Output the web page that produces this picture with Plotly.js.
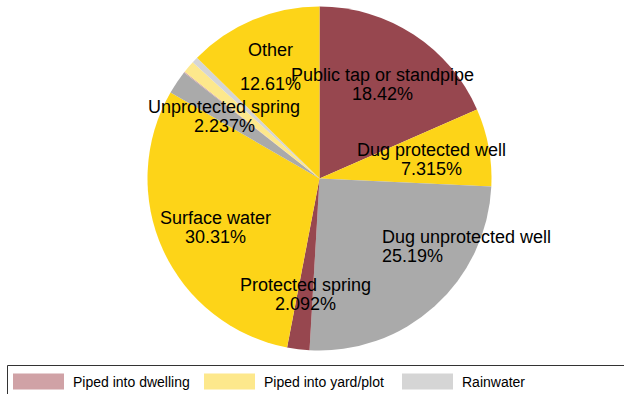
<!DOCTYPE html>
<html>
<head>
<meta charset="utf-8">
<script src="https://cdn.plot.ly/plotly-3.0.1.min.js"></script>
<style>
  html, body { margin: 0; padding: 0; background: #ffffff; }
  #chart { width: 624px; height: 394px; }
</style>
</head>
<body>
<div id="chart"></div>
<script>
// Main source of drinking water, share of households (clockwise from 12 o'clock)
const sources = [
  "Public tap or standpipe",
  "Dug protected well",
  "Dug unprotected well",
  "Protected spring",
  "Surface water",
  "Unprotected spring",
  "Piped into dwelling",
  "Piped into yard/plot",
  "Rainwater",
  "Other"
];
const shares = [18.42, 7.315, 25.19, 2.092, 30.31, 2.237, 0.096, 1.15, 0.58, 12.61];
const sliceColors = [
  "#97474f", "#fdd418", "#aaaaaa", "#97474f", "#fdd418",
  "#aaaaaa", "#d0a2a6", "#fde88c", "#d5d5d5", "#fdd418"
];
// Sources shown in the key below the pie
const legendSources = ["Piped into dwelling", "Piped into yard/plot", "Rainwater"];
// Sources whose share is printed on the pie
const labelledSources = [
  "Public tap or standpipe", "Dug protected well", "Dug unprotected well",
  "Protected spring", "Surface water", "Unprotected spring", "Other"
];

// Label placement in pixels: [anchor x, name y, value y, align]
const labelPlace = {
  "Public tap or standpipe": [382, 75, 94, "center"],
  "Dug protected well":      [431, 150, 169, "center"],
  "Dug unprotected well":    [380, 237, 256, "left"],
  "Protected spring":        [305, 284.5, 303.5, "center"],
  "Surface water":           [215, 218, 237, "center"],
  "Unprotected spring":      [224, 107, 126, "center"],
  "Other":                   [270, 50, 84, "center"]
};

const W = 624, H = 394;
const px = x => x / W;
const py = y => 1 - y / H;
const font = "Liberation Sans, Arial, Helvetica, sans-serif";

const pie = {
  type: "pie",
  labels: sources,
  values: shares,
  sort: false,
  direction: "clockwise",
  rotation: 0,
  textinfo: "none",
  hoverinfo: "label+percent",
  showlegend: false,
  marker: { colors: sliceColors, line: { width: 0 } },
  domain: { x: [px(147), px(492)], y: [py(350.5), py(6.5)] }
};

const annotations = [];
const total = shares.reduce((a, b) => a + b, 0);
labelledSources.forEach(name => {
  const i = sources.indexOf(name);
  const pct = (shares[i] / total * 100).toPrecision(4) + "%";
  const p = labelPlace[name];
  const xa = p[3] === "left" ? "left" : "center";
  [[name, p[1]], [pct, p[2]]].forEach(([t, y]) => {
    annotations.push({
      xref: "paper", yref: "paper",
      x: px(p[0]), y: py(y),
      xanchor: xa, yanchor: "middle",
      text: t, showarrow: false,
      font: { family: font, size: 18, color: "#000000" }
    });
  });
});

// Key: box with swatches for the small piped / rainwater slices
const shapes = [{
  type: "rect", xref: "paper", yref: "paper",
  x0: px(7.5), x1: px(640), y0: py(365.5), y1: py(410),
  line: { color: "#333333", width: 1 }, fillcolor: "rgba(0,0,0,0)"
}];
const keyX = [13, 204, 402];
legendSources.forEach((name, k) => {
  const i = sources.indexOf(name);
  shapes.push({
    type: "rect", xref: "paper", yref: "paper",
    x0: px(keyX[k]), x1: px(keyX[k] + 51),
    y0: py(389.5), y1: py(373.5),
    line: { width: 0 }, fillcolor: sliceColors[i]
  });
  annotations.push({
    xref: "paper", yref: "paper",
    x: px(keyX[k] + 58), y: py(382),
    xanchor: "left", yanchor: "middle",
    text: name, showarrow: false,
    font: { family: font, size: 14, color: "#000000" }
  });
});

const layout = {
  width: W, height: H,
  margin: { l: 0, r: 0, t: 0, b: 0 },
  paper_bgcolor: "#ffffff",
  plot_bgcolor: "#ffffff",
  showlegend: false,
  shapes: shapes,
  annotations: annotations
};

Plotly.newPlot("chart", [pie], layout, { displayModeBar: false, staticPlot: true });
</script>
</body>
</html>
